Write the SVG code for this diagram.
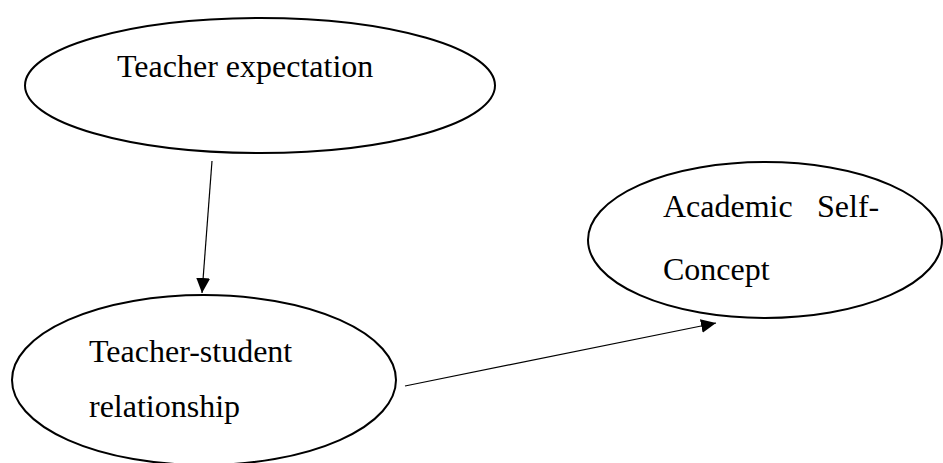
<svg xmlns="http://www.w3.org/2000/svg" width="943" height="463" viewBox="0 0 943 463">
<style>
.node{fill:#fff;stroke:#000;stroke-width:2}
.lbl{font-family:"Liberation Serif","Times New Roman",serif;font-size:32px;fill:#000}
.edge{stroke:#000;stroke-width:1.2;fill:none}
</style>
<defs>
<marker id="arr" markerUnits="userSpaceOnUse" markerWidth="17" markerHeight="15" refX="15" refY="7" orient="auto">
<path d="M0,0 L15,7 L0,14 Z" fill="#000"/>
</marker>
</defs>
<rect width="943" height="463" fill="#fff"/>
<g id="teacher-expectation">
<ellipse class="node" cx="260" cy="85.5" rx="235" ry="67.5"/>
<text class="lbl" x="117" y="77">Teacher expectation</text>
</g>
<g id="teacher-student">
<ellipse class="node" cx="204" cy="380" rx="192" ry="85"/>
<text class="lbl" x="89" y="362">Teacher-student</text>
<text class="lbl" x="89" y="417">relationship</text>
</g>
<g id="academic-self-concept">
<ellipse class="node" cx="765" cy="240" rx="177" ry="78"/>
<text class="lbl" x="663" y="217">Academic</text>
<text class="lbl" x="817" y="217">Self-</text>
<text class="lbl" x="663" y="280">Concept</text>
</g>
<g id="connectors">
<line class="edge" x1="212" y1="161" x2="202" y2="293" marker-end="url(#arr)"/>
<line class="edge" x1="405" y1="386" x2="716" y2="323" marker-end="url(#arr)"/>
</g>
</svg>
